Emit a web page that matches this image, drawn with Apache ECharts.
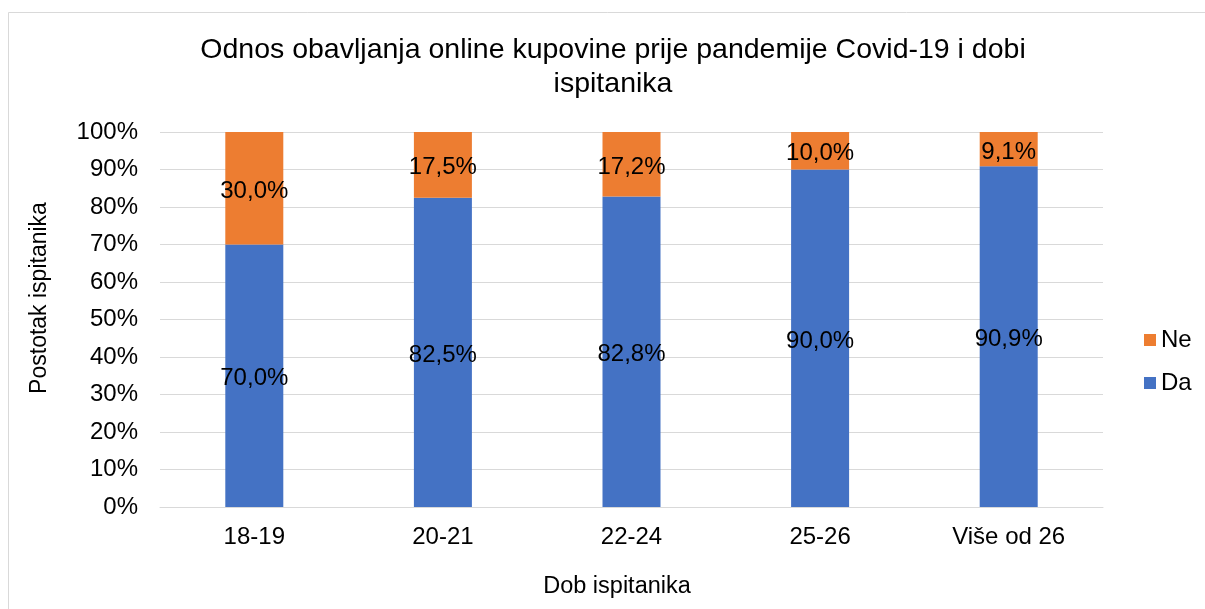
<!DOCTYPE html>
<html>
<head>
<meta charset="utf-8">
<script src="https://cdn.jsdelivr.net/npm/echarts@6/dist/echarts.min.js"></script>
<style>
html,body{margin:0;padding:0;background:#fff;}
#chart{width:1205px;height:609px;}
</style>
</head>
<body>
<div id="chart"></div>
<script>
const categories = ['18-19', '20-21', '22-24', '25-26', 'Više od 26'];
const daValues = [70.0, 82.5, 82.8, 90.0, 90.9];
const neValues = [30.0, 17.5, 17.2, 10.0, 9.1];
const titleLines = ['Odnos obavljanja online kupovine prije pandemije Covid-19 i dobi', 'ispitanika'];
const yAxisTitle = 'Postotak ispitanika';
const xAxisTitle = 'Dob ispitanika';

const FONT = '"Liberation Sans", Arial, sans-serif';
const fmt = v => v.toFixed(1).replace('.', ',') + '%';

const chart = echarts.init(document.getElementById('chart'));
const labelStyle = {
  show: true,
  position: 'inside',
  offset: [0, 3],
  color: '#000',
  fontFamily: FONT,
  fontSize: 24,
  formatter: p => fmt(p.value)
};
chart.setOption({
  backgroundColor: '#fff',
  animation: false,
  grid: { left: 160, right: 102, top: 132, bottom: 102 },
  legend: {
    orient: 'vertical',
    left: 1144,
    top: 328,
    padding: 0,
    itemWidth: 12,
    itemHeight: 12,
    itemGap: 19,
    icon: 'rect',
    data: ['Ne', 'Da'],
    textStyle: { fontFamily: FONT, fontSize: 24, color: '#000', lineHeight: 24 }
  },
  xAxis: {
    type: 'category',
    data: categories,
    axisLine: { lineStyle: { color: '#D9D9D9', width: 1 } },
    axisTick: { show: false },
    axisLabel: { fontFamily: FONT, fontSize: 24, color: '#000', margin: 18 }
  },
  yAxis: {
    type: 'value',
    min: 0,
    max: 100,
    interval: 10,
    axisLine: { show: false },
    axisTick: { show: false },
    splitLine: { lineStyle: { color: '#D9D9D9', width: 1 } },
    axisLabel: { fontFamily: FONT, fontSize: 24, color: '#000', margin: 22, padding: [4, 0, 0, 0], formatter: '{value}%' }
  },
  series: [
    {
      name: 'Da',
      type: 'bar',
      stack: 'total',
      barWidth: 58,
      data: daValues,
      itemStyle: { color: '#4472C4' },
      label: labelStyle
    },
    {
      name: 'Ne',
      type: 'bar',
      stack: 'total',
      barWidth: 58,
      data: neValues,
      itemStyle: { color: '#ED7D31' },
      label: labelStyle
    }
  ],
  graphic: [
    {
      type: 'rect',
      shape: { x: 8.5, y: 12.5, width: 1300, height: 700 },
      style: { fill: 'none', stroke: '#D9D9D9', lineWidth: 1 },
      silent: true,
      z: -10
    },
    {
      type: 'text',
      x: 613,
      y: 50,
      style: {
        text: titleLines[0],
        fontFamily: FONT,
        fontSize: 28.5,
        fill: '#000',
        align: 'center',
        verticalAlign: 'middle'
      }
    },
    {
      type: 'text',
      x: 613,
      y: 84,
      style: {
        text: titleLines[1],
        fontFamily: FONT,
        fontSize: 28.5,
        fill: '#000',
        align: 'center',
        verticalAlign: 'middle'
      }
    },
    {
      type: 'text',
      x: 40,
      y: 298,
      rotation: Math.PI / 2,
      style: {
        text: yAxisTitle,
        fontFamily: FONT,
        fontSize: 23,
        fill: '#000',
        align: 'center',
        verticalAlign: 'middle'
      }
    },
    {
      type: 'text',
      x: 617,
      y: 587,
      style: {
        text: xAxisTitle,
        fontFamily: FONT,
        fontSize: 23.5,
        fill: '#000',
        align: 'center',
        verticalAlign: 'middle'
      }
    }
  ]
});
</script>
</body>
</html>
